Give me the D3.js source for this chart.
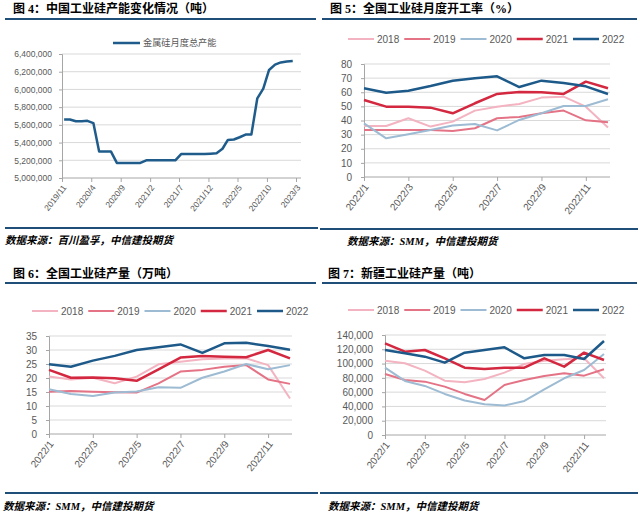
<!DOCTYPE html>
<html><head><meta charset="utf-8">
<script src="https://cdn.jsdelivr.net/npm/d3@7"></script>
<style>body{margin:0;background:#fff} svg{display:block}</style>
</head><body><svg id="c" width="640" height="525"></svg>
<script>
// ---------- DATA ----------
// Fig 4: monthly total capacity of metal silicon (tonnes)
const capMonths = ["2019/11","2019/12",
  "2020/1","2020/2","2020/3","2020/4","2020/5","2020/6","2020/7","2020/8","2020/9","2020/10","2020/11","2020/12",
  "2021/1","2021/2","2021/3","2021/4","2021/5","2021/6","2021/7","2021/8","2021/9","2021/10","2021/11","2021/12",
  "2022/1","2022/2","2022/3","2022/4","2022/5","2022/6","2022/7","2022/8","2022/9","2022/10","2022/11","2022/12",
  "2023/1","2023/2"];
const capValues = [5660000,5660000,
  5640000,5640000,5645000,5620000,5300000,5300000,5300000,5170000,5170000,5170000,5170000,5170000,
  5200000,5200000,5200000,5200000,5200000,5200000,5270000,5270000,5270000,5270000,5270000,5275000,
  5280000,5330000,5430000,5435000,5460000,5490000,5490000,5900000,6010000,6220000,6280000,6305000,
  6315000,6320000];
const capTickLabels = ["2019/11","2020/4","2020/9","2021/2","2021/7","2021/12","2022/5","2022/10","2023/3"];
const capYTicks = [5000000,5200000,5400000,5600000,5800000,6000000,6200000,6400000];
const capSeriesName = "金属硅月度总产能";

// Shared monthly categories for Fig 5-7
const months = ["2022/1","2022/2","2022/3","2022/4","2022/5","2022/6","2022/7","2022/8","2022/9","2022/10","2022/11","2022/12"];
const monthTickLabels = ["2022/1","2022/3","2022/5","2022/7","2022/9","2022/11"];
const years = ["2018","2019","2020","2021","2022"];

// Fig 5: operating rate (%)
const rate2018 = [36.1,36.1,41.6,35.7,39.2,47.0,49.8,51.7,56.2,56.9,49.8,35.0];
const rate2019 = [33.3,33.3,33.3,33.3,32.6,34.5,41.6,42.5,45.1,47.0,40.1,38.7];
const rate2020 = [38.0,27.4,30.2,33.3,36.4,37.5,33.0,40.4,45.1,50.3,50.3,55.0];
const rate2021 = [54.5,49.8,49.8,49.1,45.1,52.2,58.8,60.2,60.0,58.8,67.5,62.8];
const rate2022 = [62.8,59.7,61.1,64.4,68.2,69.9,71.3,63.7,68.2,66.6,64.2,58.8];
const rateYTicks = [0,10,20,30,40,50,60,70,80];

// Fig 6: national output (10k tonnes)
const out2018 = [20.5,19.5,20.1,18.1,20.5,24.9,25.8,26.7,27.0,27.0,24.6,12.7];
const out2019 = [15.1,15.4,15.1,14.9,14.8,18.1,22.3,22.9,24.0,24.6,19.5,17.9];
const out2020 = [16.0,14.3,13.6,14.8,15.2,16.7,16.5,20.1,22.3,25.0,23.1,24.6];
const out2021 = [22.9,20.1,20.2,19.9,19.0,23.1,27.3,27.9,27.6,27.4,30.0,27.0];
const out2022 = [24.9,24.0,26.2,27.9,30.0,31.0,32.0,29.0,32.4,32.6,31.4,30.1];
const outYTicks = [0,5,10,15,20,25,30,35];

// Fig 7: Xinjiang output (tonnes)
const xj2018 = [104100,100400,90100,76100,73800,78500,87300,99400,104100,106000,107400,79400];
const xj2019 = [85500,77100,74700,67700,57500,49100,70100,77100,82700,86400,83100,92000];
const xj2020 = [94300,75700,68700,57500,48200,43000,41200,47700,64000,79400,91000,113400];
const xj2021 = [128300,116700,119000,107400,94300,92400,94300,94300,107400,95700,115300,105000];
const xj2022 = [119000,114400,109700,101300,115300,119000,122700,107400,112000,112000,106400,131600];
const xjYTicks = [0,20000,40000,60000,80000,100000,120000,140000];

// ---------- STYLE ----------
const yearColors = {"2018":"#f3b3c0","2019":"#e47386","2020":"#9dbbd2","2021":"#d3283f","2022":"#1d5a8a"};
const yearWidths = {"2018":2,"2019":2,"2020":2,"2021":2.5,"2022":2.5};
const RULE = "#1f4e79";
const GRID = "#d9d9d9";
const AXIS = "#a6a6a6";
const LABEL = "#595959";
const NUMFONT = "'Liberation Sans', Arial, sans-serif";
const TITLEFONT = "'Liberation Serif', 'Noto Sans CJK SC', serif";
const CJK = "'Noto Sans CJK SC', sans-serif";

const svg = d3.select("#c");
svg.append("rect").attr("width",640).attr("height",525).attr("fill","#fff");

function rule(x1,x2,y){
  svg.append("line").attr("x1",x1).attr("x2",x2).attr("y1",y).attr("y2",y)
    .attr("stroke",RULE).attr("stroke-width",2);
}
function title(x,y,t){
  svg.append("text").attr("x",x).attr("y",y).text(t)
    .attr("font-family",TITLEFONT).attr("font-weight","bold").attr("font-size",12).attr("fill","#000");
}
function source(x,y,t){
  svg.append("text").attr("x",x).attr("y",y).text(t)
    .attr("font-family",TITLEFONT).attr("font-weight","bold").attr("font-style","italic")
    .attr("font-size",10.5).attr("fill","#000");
}
function styleAxis(g, fs){
  g.select(".domain").attr("stroke",AXIS);
  g.selectAll(".tick line").attr("stroke",AXIS);
  g.selectAll("text").attr("fill",LABEL).attr("font-family",NUMFONT).attr("font-size",fs);
}
function rotateLabels(g){
  g.selectAll("text").attr("text-anchor","end").attr("y",0).attr("dy","0.35em")
    .attr("transform","translate(2,8) rotate(-52)");
}

// ---------- FIG 4 ----------
title(13,13,"图 4：中国工业硅产能变化情况（吨）");
rule(5,316,19);
{
  const parse = d3.timeParse("%Y/%m/%d");
  const x = d3.scaleTime().domain([parse("2019/11/1"), parse("2023/3/1")]).range([62,296]);
  const y = d3.scaleLinear().domain([5000000,6400000]).range([178,54]);
  const g = svg.append("g");
  g.selectAll(".grid").data(capYTicks.filter(d=>d>5000000)).join("line")
    .attr("x1",62).attr("x2",301).attr("y1",d=>y(d)).attr("y2",d=>y(d))
    .attr("stroke",GRID).attr("stroke-width",1);
  const ya = g.append("g").attr("transform","translate(62,0)")
    .call(d3.axisLeft(y).tickValues(capYTicks).tickSize(3).tickPadding(7).tickFormat(d3.format(",")));
  styleAxis(ya, 8.5);
  const xa = g.append("g").attr("transform","translate(0,178)")
    .call(d3.axisBottom(x).tickValues(capTickLabels.map(m=>parse(m+"/1"))).tickSize(4)
      .tickFormat(d=>d3.timeFormat("%Y/")(d)+(d.getMonth()+1)));
  xa.select(".domain").attr("d","M62,0H301");
  styleAxis(xa, 8.5);
  rotateLabels(xa);
  const pts = capMonths.map((m,i)=>[parse(m+"/12"), capValues[i]]);
  g.append("path").datum(pts)
    .attr("d", d3.line().x(d=>x(d[0])).y(d=>y(d[1])))
    .attr("fill","none").attr("stroke","#1f5c8b").attr("stroke-width",2.5).attr("stroke-linejoin","round");
  // legend
  g.append("line").attr("x1",113).attr("x2",140).attr("y1",43).attr("y2",43)
    .attr("stroke","#1f5c8b").attr("stroke-width",2.5);
  g.append("text").attr("x",143).attr("y",43).attr("dy","0.35em").text(capSeriesName)
    .attr("font-family",CJK).attr("font-size",9.2).attr("fill",LABEL);
}
rule(5,318,228);
source(5,244,"数据来源：百川盈孚，中信建投期货");

// ---------- Year comparison charts ----------
function yearChart(cfg){
  const {x0,x1,yTop,yBot,ticks,series,fmt,legendX,legendY} = cfg;
  const x = d3.scalePoint().domain(months).range([x0,x1]);
  const y = d3.scaleLinear().domain([0,d3.max(ticks)]).range([yBot,yTop]);
  const g = svg.append("g");
  g.selectAll(".grid").data(ticks.filter(d=>d>0)).join("line")
    .attr("x1",x0).attr("x2",x1+2).attr("y1",d=>y(d)).attr("y2",d=>y(d))
    .attr("stroke",GRID).attr("stroke-width",1);
  const ya = g.append("g").attr("transform",`translate(${x0},0)`)
    .call(d3.axisLeft(y).tickValues(ticks).tickSize(3).tickPadding(9).tickFormat(fmt));
  styleAxis(ya, 10);
  const xa = g.append("g").attr("transform",`translate(0,${yBot})`)
    .call(d3.axisBottom(x).tickValues(monthTickLabels).tickSize(4));
  xa.select(".domain").attr("d",`M${x0},0H${x1+2}`);
  styleAxis(xa, 10);
  rotateLabels(xa);
  const line = d3.line().x((d,i)=>x(months[i])).y(d=>y(d));
  years.forEach((yr,k)=>{
    g.append("path").datum(series[k]).attr("d",line)
      .attr("fill","none").attr("stroke",yearColors[yr]).attr("stroke-width",yearWidths[yr])
      .attr("stroke-linejoin","round");
  });
  // legend
  let lx = legendX;
  years.forEach(yr=>{
    g.append("line").attr("x1",lx).attr("x2",lx+26).attr("y1",legendY).attr("y2",legendY)
      .attr("stroke",yearColors[yr]).attr("stroke-width",yearWidths[yr]);
    const t = g.append("text").attr("x",lx+29).attr("y",legendY).attr("dy","0.35em").text(yr)
      .attr("font-family",NUMFONT).attr("font-size",10).attr("fill",LABEL);
    lx += 29 + t.node().getComputedTextLength() + 5;
  });
}

// ---------- FIG 5 ----------
title(330,13,"图 5：全国工业硅月度开工率（%）");
rule(322,637,19);
yearChart({x0:364,x1:608,yTop:64,yBot:177,ticks:rateYTicks,
  series:[rate2018,rate2019,rate2020,rate2021,rate2022],fmt:d3.format("d"),legendX:348,legendY:39});
rule(320,638,229);
source(347,245,"数据来源：SMM，中信建投期货");

// ---------- FIG 6 ----------
title(13,278,"图 6：全国工业硅产量（万吨）");
rule(5,316,283);
yearChart({x0:49,x1:290,yTop:336,yBot:434,ticks:outYTicks,
  series:[out2018,out2019,out2020,out2021,out2022],fmt:d3.format("d"),legendX:32,legendY:311});
rule(5,318,493);
source(3,510,"数据来源：SMM，中信建投期货");

// ---------- FIG 7 ----------
title(328,278,"图 7：新疆工业硅产量（吨）");
rule(322,637,283);
yearChart({x0:385,x1:604,yTop:335,yBot:435,ticks:xjYTicks,
  series:[xj2018,xj2019,xj2020,xj2021,xj2022],fmt:d3.format(","),legendX:348,legendY:310});
rule(320,638,493);
source(328,510,"数据来源：SMM，中信建投期货");
</script></body></html>
